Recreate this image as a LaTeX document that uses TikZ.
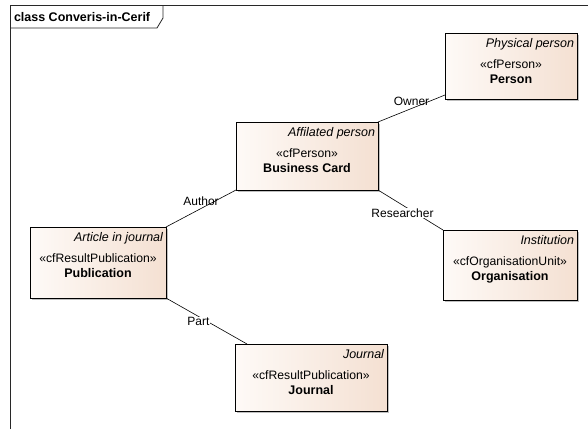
\documentclass[tikz,border=0pt]{standalone}
\usepackage{fontspec}
\setmainfont{Liberation Sans}
\usetikzlibrary{calc,shadows}
\definecolor{boxleft}{RGB}{254,250,247}
\definecolor{boxright}{RGB}{244,224,210}
\definecolor{framegray}{RGB}{40,40,40}
% #1 name, #2 centre, #3 width, #4 height, #5 role, #6 stereotype, #7 title
\newcommand{\umlclass}[7]{%
\node[classbox,minimum width=#3pt,minimum height=#4pt] (#1) at (#2) {};
\node[rolelabel,anchor=base east] (#1role) at ($(#1.north east)+(-3,14)$) {#5};
\node[anchor=base] (#1stereo) at ($(#1.north)+(0,35)$) {«#6»};
\node[anchor=base,font=\fontsize{12.5}{14}\selectfont\bfseries] (#1title) at ($(#1.north)+(0,50)$) {#7};}
\begin{document}
\begin{tikzpicture}[x=1pt,y=-1pt,
  font=\fontsize{12.2}{14}\selectfont,
  every node/.style={inner sep=0pt,outer sep=0pt},
  classbox/.style={draw=black,line width=0.8pt,left color=boxleft,right color=boxright,
    drop shadow={shadow xshift=1.5pt,shadow yshift=-1.5pt,opacity=0.5}},
  rolelabel/.style={font=\fontsize{12.5}{14}\selectfont\itshape},
  assoc/.style={line width=0.6pt},
  rolename/.style={font=\fontsize{12}{14}\selectfont,inner sep=1pt}]
\useasboundingbox (0,0) rectangle (588,429);
% frame
\draw[framegray,line width=0.8pt] (10,429) -- (10,5) -- (588,5);
\draw[framegray,line width=0.8pt] (10,28) -- (157,28) -- (163,18) -- (163,5);
\node[anchor=west,font=\fontsize{12.5}{14}\selectfont\bfseries] (title) at (14,17) {class Converis-in-Cerif};
% classes
\umlclass{person}{511,66}{132}{66}{Physical person}{cfPerson}{Person}
\umlclass{card}{307,156}{142}{68}{Affilated person}{cfPerson}{Business Card}
\umlclass{pub}{98,262.5}{136}{71}{Article in journal}{cfResultPublication}{Publication}
\umlclass{org}{510,265}{134}{70}{Institution}{cfOrganisationUnit}{Organisation}
\umlclass{journal}{311,377.5}{152}{67}{Journal}{cfResultPublication}{Journal}
% associations
\draw[assoc] (card.north east) -- ([yshift=4pt]person.south west) node[rolename,midway,above=2pt] {Owner};
\draw[assoc] (pub.north east) -- (card.south west) node[rolename,midway,above=2pt] {Author};
\draw[assoc] (card.south east) -- (org.north west) node[rolename,midway,fill=white,xshift=-8pt,yshift=-3pt] {Researcher};
\draw[assoc] (pub.south east) -- ([xshift=12pt]journal.north west) node[rolename,pos=0.4,fill=white,yshift=-5.5pt] {Part};
\end{tikzpicture}
\end{document}
